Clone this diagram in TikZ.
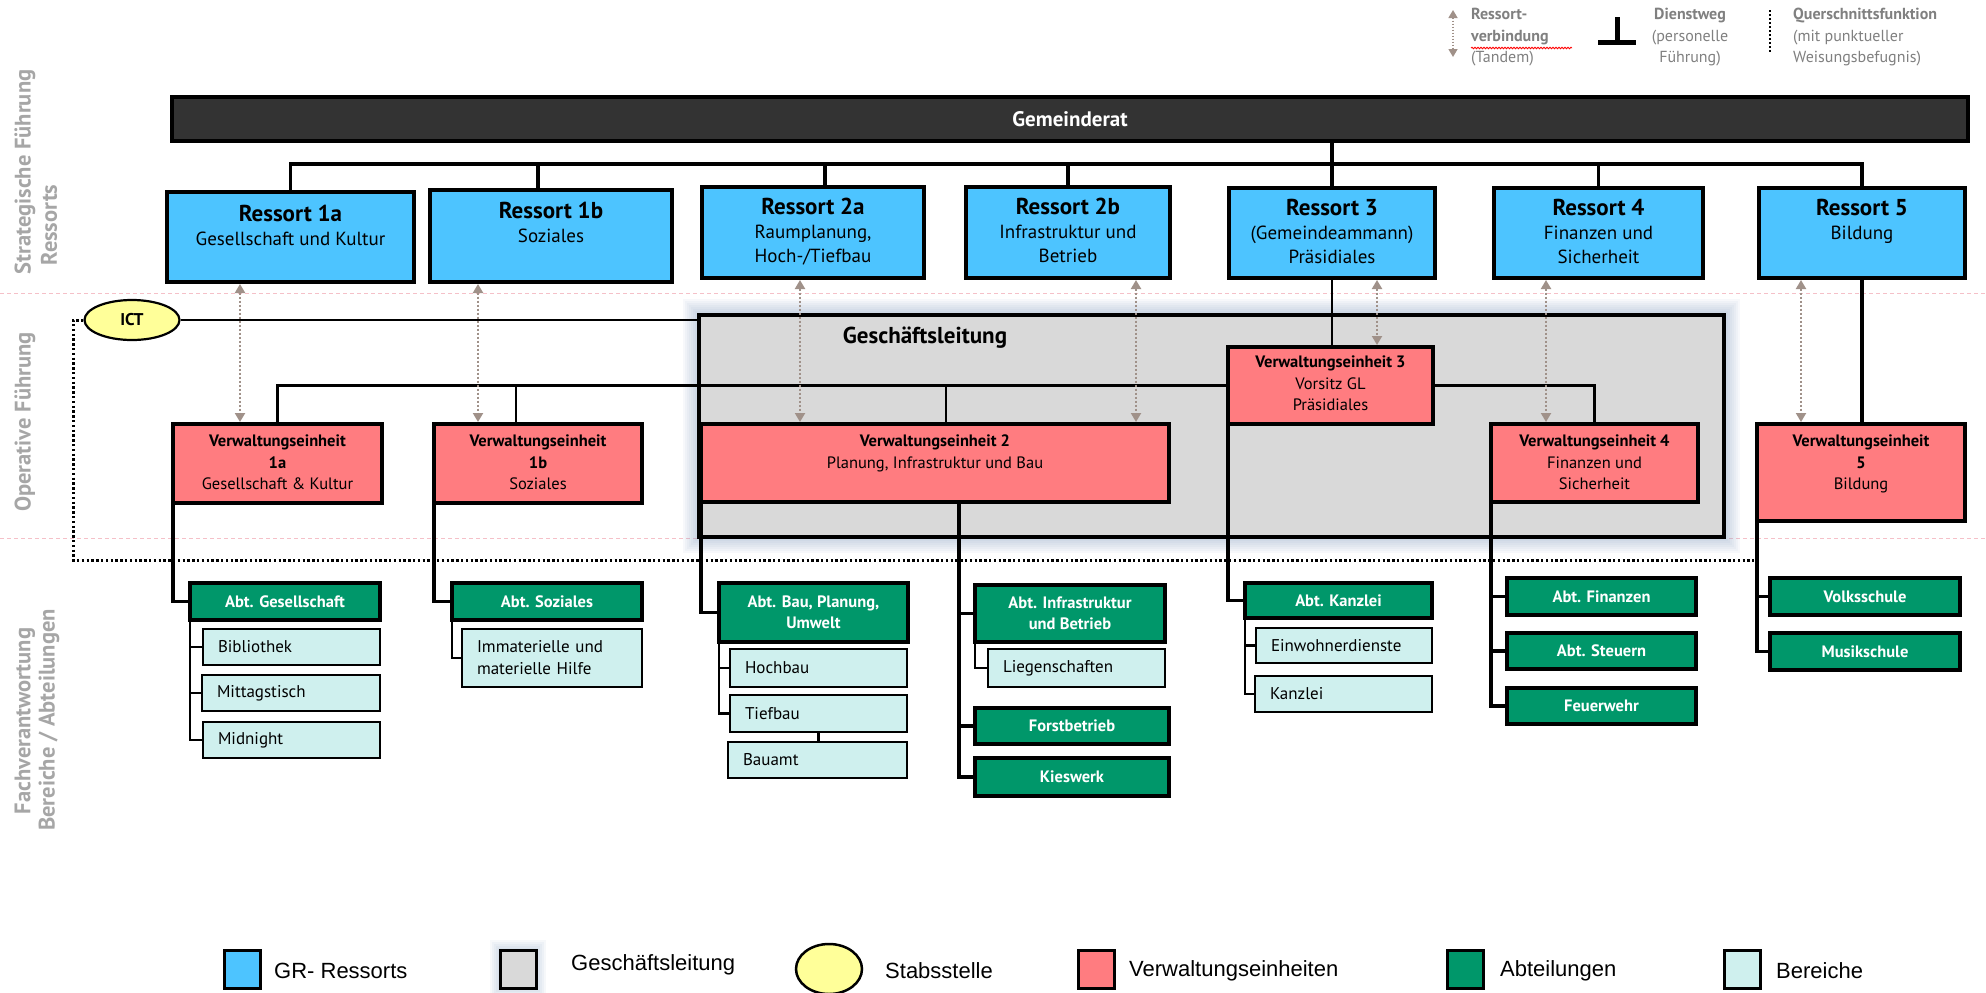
\documentclass[tikz,border=0pt]{standalone}
\usepackage{fontspec}
\setmainfont{PT Sans}
\newfontfamily\legfont{Liberation Sans}
\usetikzlibrary{arrows.meta,shapes.geometric,decorations.pathmorphing,calc}

\definecolor{rblue}{HTML}{4DC4FF}
\definecolor{vred}{HTML}{FF7C80}
\definecolor{agreen}{HTML}{00976A}
\definecolor{bcyan}{HTML}{CFF0EE}
\definecolor{glgray}{HTML}{D9D9D9}
\definecolor{grdark}{HTML}{333333}
\definecolor{ictyel}{HTML}{FFFF99}
\definecolor{tandemc}{HTML}{A09189}
\definecolor{lblgray}{HTML}{A6A6A6}
\definecolor{leggray}{HTML}{808080}
\definecolor{seppink}{HTML}{F5C0C8}
\definecolor{glowblue}{HTML}{8EA6C8}

\newcommand\fsz[2]{\fontsize{#1pt}{#2pt}\selectfont}
\newcommand\mkrect[7]{%
  \pgfmathsetmacro\rw{#5-#3}\pgfmathsetmacro\rh{#6-#4}%
  \pgfmathsetmacro\rx{(#3+#5)/2}\pgfmathsetmacro\ry{(#4+#6)/2}%
  \pgfmathsetmacro\tw{#5-#3-30}%
  \node[#1, minimum width=\rw pt, minimum height=\rh pt] (#2) at (\rx,\ry) {#7};}

\tikzset{
  boxbase/.style={draw=black, line width=3.5pt, inner sep=0pt, outer sep=0pt},
  rbox/.style={boxbase, fill=rblue},
  vbox/.style={boxbase, fill=vred},
  glbox/.style={boxbase, fill=glgray},
  grbox/.style={boxbase, fill=grdark, text=white, font=\bfseries\fsz{21}{24}},
  abox/.style={boxbase, line width=3.2pt, fill=agreen, text=white, align=center, font=\bfseries\fsz{16.5}{21}},
  bbox/.style={draw=black, line width=2.2pt, fill=bcyan, inner xsep=15pt, inner ysep=0pt,
     text width=\tw pt, align=left, font=\fsz{17}{22}},
  rtext/.style={anchor=north, align=center, inner sep=0pt, font=\fsz{19}{24}},
  vtext/.style={anchor=north, align=center, inner sep=0pt, font=\fsz{16.5}{21.5}},
  org/.style={line width=3.5pt, line join=miter},
  orgthin/.style={line width=2.8pt},
  subl/.style={line width=2.4pt},
  ictl/.style={line width=1.8pt},
  quer/.style={line width=3pt, dash pattern=on 2.4pt off 2.4pt},
  tandem/.style={draw=tandemc, line width=2pt, dash pattern=on 2pt off 2pt,
     {Triangle[width=10pt,length=9pt]}-{Triangle[width=10pt,length=9pt]},
     shorten <=2pt, shorten >=2pt},
  sep/.style={draw=seppink, line width=1pt, dash pattern=on 4pt off 3pt},
  sidelbl/.style={rotate=90, text=lblgray, font=\bfseries\fsz{22.5}{26}, inner sep=0pt},
  toplbl/.style={text=leggray, font=\fsz{16}{21.5}, inner sep=0pt},
  legsw/.style={draw=black, line width=3pt, minimum width=36pt, minimum height=38pt, inner sep=0pt},
  legtxt/.style={anchor=west, font=\legfont\fsz{22}{26}, inner sep=0pt},
}

\begin{document}
\begin{tikzpicture}[x=1pt,y=-1pt]
\useasboundingbox[fill=white] (0,0) rectangle (1986,993);

% section separators
\draw[sep] (0,293) -- (1986,293);
\draw[sep] (0,538) -- (1986,538);

% side labels
\node[sidelbl] (s1) at (25,172) {Strategische Führung};
\node[sidelbl] (s2) at (49,225) {Ressorts};
\node[sidelbl] (s3) at (25,422) {Operative Führung};
\node[sidelbl] (s4) at (25,721) {Fachverantwortung};
\node[sidelbl] (s5) at (49,720) {Bereiche / Abteilungen};

% Geschaeftsleitung with glow
\foreach \d in {16,14,...,2}{
  \fill[glowblue, opacity=0.07] (699-\d,315-\d) rectangle (1724+\d,537+\d);
}
\mkrect{glbox}{gl}{699}{315}{1724}{537}{}
\node[font=\bfseries\fsz{23}{26}, inner sep=0pt] (gltitle) at (925,338) {Geschäftsleitung};

% Gemeinderat
\mkrect{grbox}{gr}{172}{97}{1968}{141}{Gemeinderat}

% Ressorts
\mkrect{rbox}{r1a}{167}{192}{414}{282}{}
\mkrect{rbox}{r1b}{430}{190}{672}{282}{}
\mkrect{rbox}{r2a}{702}{187}{924}{278}{}
\mkrect{rbox}{r2b}{966}{187}{1170}{278}{}
\mkrect{rbox}{r3}{1229}{188}{1435}{278}{}
\mkrect{rbox}{r4}{1494}{188}{1703}{278}{}
\mkrect{rbox}{r5}{1759}{188}{1965}{278}{}

\node[rtext] (r1at) at ([yshift=-13pt]r1a.north) {{\bfseries\fsz{23}{24}Ressort 1a}\\Gesellschaft und Kultur};
\node[rtext] (r1bt) at ([yshift=-12pt]r1b.north) {{\bfseries\fsz{23}{24}Ressort 1b}\\Soziales};
\node[rtext] (r2at) at ([yshift=-11pt]r2a.north) {{\bfseries\fsz{23}{24}Ressort 2a}\\Raumplanung,\\Hoch-/Tiefbau};
\node[rtext] (r2bt) at ([yshift=-11pt]r2b.north) {{\bfseries\fsz{23}{24}Ressort 2b}\\Infrastruktur und\\Betrieb};
\node[rtext] (r3t) at ([yshift=-11pt]r3.north) {{\bfseries\fsz{23}{24}Ressort 3}\\(Gemeindeammann)\\Präsidiales};
\node[rtext] (r4t) at ([yshift=-11pt]r4.north) {{\bfseries\fsz{23}{24}Ressort 4}\\Finanzen und\\Sicherheit};
\node[rtext] (r5t) at ([yshift=-11pt]r5.north) {{\bfseries\fsz{23}{24}Ressort 5}\\Bildung};

% bus from Gemeinderat
\coordinate (bus) at (0,164);
\coordinate (d1b) at (538,0);
\coordinate (d2a) at (825,0);
\draw[org] (r3.north |- gr.south) -- (r3.north |- bus);
\draw[org] (r1a.north) |- (r5.north |- bus) -- (r5.north);
\draw[org] (d1b |- bus) -- (d1b |- r1b.north);
\draw[org] (d2a |- bus) -- (d2a |- r2a.north);
\draw[org] (r2b.north |- bus) -- (r2b.north);
\draw[org] (r3.north |- bus) -- (r3.north);
\draw[org] (r4.north |- bus) -- (r4.north);

% ICT
\node[ellipse, draw=black, line width=2.2pt, fill=ictyel, minimum width=95pt, minimum height=40pt, inner sep=0pt, font=\bfseries\fsz{17}{20}] (ict) at (132,320) {ICT};
\draw[ictl] (ict.east) -- (ict.east -| gl.west);
\coordinate (qc) at (73,560);
\coordinate (qend) at (1754,560);
\draw[quer] (ict.west) -| (qc) -- (qend);

% Verwaltungseinheiten
\mkrect{vbox}{ve1a}{173}{424}{382}{503}{}
\mkrect{vbox}{ve1b}{434}{424}{642}{503}{}
\mkrect{vbox}{ve2}{701}{424}{1169}{502}{}
\mkrect{vbox}{ve3}{1228}{347}{1433}{424}{}
\mkrect{vbox}{ve4}{1491}{424}{1698}{502}{}
\mkrect{vbox}{ve5}{1757}{424}{1965}{521}{}

\node[vtext] (ve1at) at ([yshift=-11pt]ve1a.north) {\textbf{Verwaltungseinheit}\\\textbf{1a}\\Gesellschaft \& Kultur};
\node[vtext] (ve1bt) at ([yshift=-11pt]ve1b.north) {\textbf{Verwaltungseinheit}\\\textbf{1b}\\Soziales};
\node[vtext] (ve2t) at ([yshift=-11pt]ve2.north) {\textbf{Verwaltungseinheit 2}\\Planung, Infrastruktur und Bau};
\node[vtext] (ve3t) at ([yshift=-9pt]ve3.north) {\textbf{Verwaltungseinheit 3}\\Vorsitz GL\\Präsidiales};
\node[vtext] (ve4t) at ([yshift=-11pt]ve4.north) {\textbf{Verwaltungseinheit 4}\\Finanzen und\\Sicherheit};
\node[vtext] (ve5t) at ([yshift=-11pt]ve5.north) {\textbf{Verwaltungseinheit}\\\textbf{5}\\Bildung};

% Dienstweg operative level
\coordinate (dv1b) at (516,0);
\coordinate (dv2) at (946,0);
\draw[orgthin] (ve3.west) -- (ve3.west -| ve1a.north) -- (ve1a.north);
\draw[orgthin] (dv1b |- ve3.west) -- (dv1b |- ve1b.north);
\draw[orgthin] (dv2 |- ve3.west) -- (dv2 |- ve2.north);
\draw[orgthin] (ve3.east) -| (ve4.north);
\draw[orgthin] (r3.south) -- (r3.south |- ve3.north);
\draw[org] (r5.south) -- (r5.south |- ve5.north);

% Tandem arrows
\coordinate (t1) at (240,0);
\coordinate (t2) at (478,0);
\coordinate (t3) at (800,0);
\coordinate (t4) at (1136,0);
\coordinate (t5) at (1377,0);
\coordinate (t6) at (1546,0);
\coordinate (t7) at (1801,0);
\draw[tandem] (t1 |- r1a.south) -- (t1 |- ve1a.north);
\draw[tandem] (t2 |- r1b.south) -- (t2 |- ve1b.north);
\draw[tandem] (t3 |- r2a.south) -- (t3 |- ve2.north);
\draw[tandem] (t4 |- r2b.south) -- (t4 |- ve2.north);
\draw[tandem] (t5 |- r3.south) -- (t5 |- ve3.north);
\draw[tandem] (t6 |- r4.south) -- (t6 |- ve4.north);
\draw[tandem] (t7 |- r5.south) -- (t7 |- ve5.north);

% Abteilungen and Bereiche
\mkrect{abox}{abtG}{190}{583}{380}{620}{Abt. Gesellschaft}
\mkrect{bbox}{bib}{203}{629}{380}{665}{Bibliothek}
\mkrect{bbox}{mitt}{202}{675}{380}{711}{Mittagstisch}
\mkrect{bbox}{midn}{203}{722}{380}{758}{Midnight}

\mkrect{abox}{abtS}{452}{583}{642}{620}{Abt. Soziales}
\mkrect{bbox}{imm}{462}{629}{642}{687}{Immaterielle und\\materielle Hilfe}

\mkrect{abox}{abtB}{719}{583}{908}{642}{Abt. Bau, Planung,\\Umwelt}
\mkrect{bbox}{hoch}{730}{649}{907}{687}{Hochbau}
\mkrect{bbox}{tief}{730}{695}{907}{732}{Tiefbau}
\mkrect{bbox}{bauamt}{728}{742}{907}{778}{Bauamt}

\mkrect{abox}{abtI}{975}{585}{1165}{642}{Abt. Infrastruktur\\und Betrieb}
\mkrect{bbox}{lieg}{988}{649}{1165}{687}{Liegenschaften}
\mkrect{abox}{forst}{975}{708}{1169}{744}{Forstbetrieb}
\mkrect{abox}{kies}{975}{758}{1169}{796}{Kieswerk}

\mkrect{abox}{abtK}{1245}{583}{1432}{618}{Abt. Kanzlei}
\mkrect{bbox}{einw}{1256}{628}{1432}{663}{Einwohnerdienste}
\mkrect{bbox}{kanz}{1255}{676}{1432}{712}{Kanzlei}

\mkrect{abox}{fin}{1507}{578}{1696}{615}{Abt. Finanzen}
\mkrect{abox}{steu}{1507}{633}{1696}{669}{Abt. Steuern}
\mkrect{abox}{feuer}{1507}{688}{1696}{724}{Feuerwehr}

\mkrect{abox}{volks}{1770}{578}{1960}{615}{Volksschule}
\mkrect{abox}{musik}{1770}{633}{1960}{670}{Musikschule}

% lower connectors
\draw[org] (ve1a.south west) |- (abtG.west);
\draw[subl] (abtG.south west) |- (bib.west);
\draw[subl] (abtG.south west) |- (mitt.west);
\draw[subl] (abtG.south west) |- (midn.west);

\draw[org] (ve1b.south west) |- (abtS.west);
\draw[subl] (abtS.south west) |- (imm.west);

\draw[org] (ve2.south west) |- (abtB.west);
\draw[subl] (abtB.south west) |- (hoch.west);
\draw[subl] (abtB.south west) |- (tief.west);
\draw[subl] (tief.south) -- (bauamt.north -| tief.south);
\coordinate (v2b) at (959,502);
\draw[org] (v2b) |- (abtI.west);
\draw[org] (v2b) |- (forst.west);
\draw[org] (v2b) |- (kies.west);
\draw[subl] (abtI.south west) |- (lieg.west);

\draw[org] (ve3.south west) |- (abtK.west);
\draw[subl] (abtK.south west) |- (einw.west);
\draw[subl] (abtK.south west) |- (kanz.west);

\draw[org] (ve4.south west) |- (fin.west);
\draw[org] (ve4.south west) |- (steu.west);
\draw[org] (ve4.south west) |- (feuer.west);

\draw[org] (ve5.south west) |- (volks.west);
\draw[org] (ve5.south west) |- (musik.west);

% top-right legend
\coordinate (la1) at (1453,10);
\coordinate (la2) at (1453,57);
\draw[draw=tandemc, line width=1.5pt, dash pattern=on 1.5pt off 1.5pt,
  {Triangle[width=9pt,length=8pt]}-{Triangle[width=9pt,length=8pt]}] (la1) -- (la2);
\node[toplbl, anchor=north west, align=left] (lt1) at (1471,8) {\textbf{Ressort-}\\\textbf{verbindung}\\(Tandem)};
\draw[red, line width=0.8pt, decorate, decoration={snake, amplitude=0.8pt, segment length=3pt}] (1471,48) -- (1572,48);
\draw[line width=5pt] (1617,17) -- (1617,42);
\draw[line width=5pt] (1598,42) -- (1636,42);
\node[toplbl, anchor=north, align=center] (lt2) at (1690,8) {\textbf{Dienstweg}\\(personelle\\Führung)};
\draw[quer, line width=2.5pt, dash pattern=on 2pt off 2pt] (1770,10) -- (1770,53);
\node[toplbl, anchor=north west, align=left] (lt3) at (1793,8) {\textbf{Querschnittsfunktion}\\(mit punktueller\\Weisungsbefugnis)};

% bottom legend
\node[legsw, fill=rblue] (lg1) at (242,969) {};
\node[legtxt] (lg1t) at (274,971) {GR- Ressorts};
\foreach \d in {10,8,...,2}{
  \fill[glowblue, opacity=0.08] (500-\d,950-\d) rectangle (536+\d,988+\d);
}
\node[legsw, fill=glgray] (lg2) at (518,969) {};
\node[legtxt] (lg2t) at (571,965) {Geschäftsleitung};
\node[ellipse, draw=black, line width=2.5pt, fill=ictyel, minimum width=66pt, minimum height=50pt, inner sep=0pt] (lg3) at (829,969) {};
\node[legtxt] (lg3t) at (885,971) {Stabsstelle};
\node[legsw, fill=vred] (lg4) at (1096,969) {};
\node[legtxt] (lg4t) at (1129,971) {Verwaltungseinheiten};
\node[legsw, fill=agreen] (lg5) at (1465,969) {};
\node[legtxt] (lg5t) at (1500,971) {Abteilungen};
\node[legsw, fill=bcyan] (lg6) at (1742,969) {};
\node[legtxt] (lg6t) at (1776,971) {Bereiche};
\end{tikzpicture}
\end{document}
